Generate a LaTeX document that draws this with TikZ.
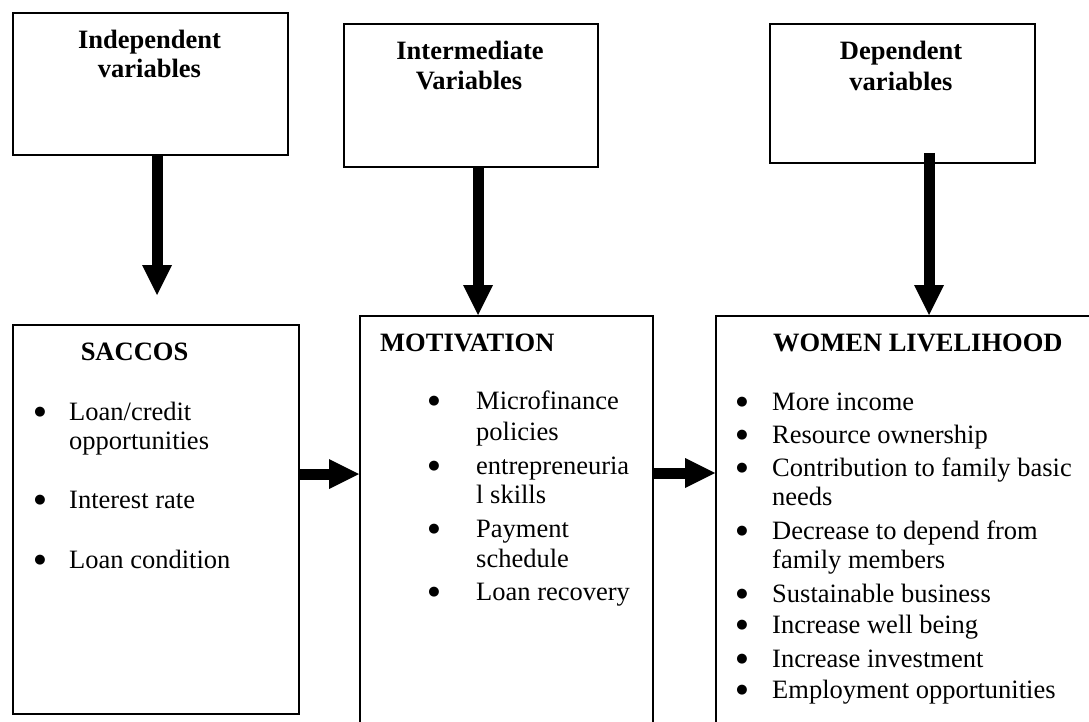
\documentclass[tikz,border=0pt]{standalone}
\usepackage{fontspec}
\setmainfont{Liberation Serif}
\newfontfamily\dejavu{DejaVu Sans}
\usetikzlibrary{arrows.meta}
\tikzset{
  every node/.style={font=\fontsize{26.5}{30}\selectfont, inner sep=0pt},
  boxst/.style={draw, line width=1.6pt, anchor=north west, rectangle},
  title/.style={anchor=base, font=\fontsize{26.5}{30}\selectfont\bfseries},
  titlew/.style={anchor=base west, font=\fontsize{26.5}{30}\selectfont\bfseries},
  txt/.style={anchor=base west},
  bul/.style={anchor=base, yshift=5pt, font=\fontsize{13}{13}\selectfont\dejavu},
  bigarrow/.style={line width=11pt, -{Triangle[width=30pt,length=30pt,line width=0pt]}}
}
\newcommand{\bu}{●}
\begin{document}
\begin{tikzpicture}[x=1pt,y=-1pt]
\useasboundingbox (0,0) rectangle (1089,722);
\clip (0,0) rectangle (1089,722);
% top boxes
\node[boxst, minimum width=275pt, minimum height=142pt] (iv) at (12,12) {};
\node[boxst, minimum width=254pt, minimum height=143pt] (mv) at (343,23) {};
\node[boxst, minimum width=265pt, minimum height=139pt] (dv) at (769,23) {};
% bottom boxes
\node[boxst, minimum width=286pt, minimum height=389pt] (sac) at (12,324) {};
\node[boxst, minimum width=293pt, minimum height=420pt] (mot) at (359,315) {};
\node[boxst, minimum width=400pt, minimum height=420pt] (wl) at (715,315) {};
% titles
\node[title] (t1a) at (149.5,49) {Independent};
\node[title] (t1b) at (149.5,78) {variables};
\node[title] (t2a) at (470,60) {Intermediate};
\node[title] (t2b) at (469,90) {Variables};
\node[title] (t3a) at (901,60) {Dependent};
\node[title] (t3b) at (901,91) {variables};
\node[title] (s1) at (134.5,360) {SACCOS};
\node[titlew] (s2) at (380,351) {MOTIVATION};
\node[titlew] (s3) at (773,351) {WOMEN LIVELIHOOD};
% SACCOS items
\node[bul] (b11) at (40,420) {\bu};
\node[txt] (i11) at (69,420) {Loan/credit};
\node[txt] (i11b) at (69,449) {opportunities};
\node[bul] (b12) at (40,508) {\bu};
\node[txt] (i12) at (69,508) {Interest rate};
\node[bul] (b13) at (40,568) {\bu};
\node[txt] (i13) at (69,568) {Loan condition};
% MOTIVATION items
\node[bul] (b21) at (434,409) {\bu};
\node[txt] (i21) at (476,409) {Microfinance};
\node[txt] (i21b) at (476,440) {policies};
\node[bul] (b22) at (434,474) {\bu};
\node[txt] (i22) at (476,474) {entrepreneuria};
\node[txt] (i22b) at (476,503) {l skills};
\node[bul] (b23) at (434,537) {\bu};
\node[txt] (i23) at (476,537) {Payment};
\node[txt] (i23b) at (476,567) {schedule};
\node[bul] (b24) at (434,600) {\bu};
\node[txt] (i24) at (476,600) {Loan recovery};
% WOMEN LIVELIHOOD items
\node[bul] (b31) at (742,410) {\bu};
\node[txt] (i31) at (772,410) {More income};
\node[bul] (b32) at (742,443) {\bu};
\node[txt] (i32) at (772,443) {Resource ownership};
\node[bul] (b33) at (742,476) {\bu};
\node[txt] (i33) at (772,476) {Contribution to family basic};
\node[txt] (i33b) at (772,505) {needs};
\node[bul] (b34) at (742,539) {\bu};
\node[txt] (i34) at (772,539) {Decrease to depend from};
\node[txt] (i34b) at (772,568) {family members};
\node[bul] (b35) at (742,602) {\bu};
\node[txt] (i35) at (772,602) {Sustainable business};
\node[bul] (b36) at (742,633) {\bu};
\node[txt] (i36) at (772,633) {Increase well being};
\node[bul] (b37) at (742,667) {\bu};
\node[txt] (i37) at (772,667) {Increase investment};
\node[bul] (b38) at (742,698) {\bu};
\node[txt] (i38) at (772,698) {Employment opportunities};
% arrows
\coordinate (a1e) at (157,295);
\coordinate (a3s) at (929,153);
\draw[bigarrow] (157,0 |- iv.south) -- (a1e);
\draw[bigarrow] (478,0 |- mv.south) -- (478,0 |- mot.north);
\draw[bigarrow] (a3s) -- (929,0 |- wl.north);
\draw[bigarrow] (sac.east |- 0,474) -- (mot.west |- 0,474);
\draw[bigarrow] (mot.east |- 0,473) -- (wl.west |- 0,473);
\end{tikzpicture}
\end{document}
